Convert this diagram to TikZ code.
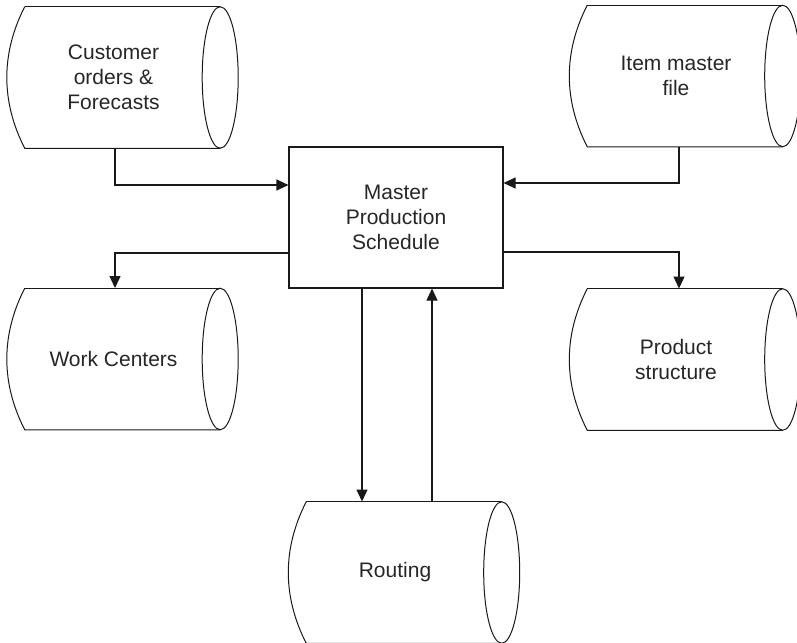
\documentclass[tikz,border=0pt]{standalone}
\usepackage{fontspec}
\setmainfont{Liberation Sans}
\usetikzlibrary{arrows.meta}

% Draws a horizontal storage drum around a named node: curved back on the left,
% full ellipse on the right (centred on the node's east anchor).
\newcommand{\drumoutline}[1]{%
  \draw[outline]
    ([xshift=18pt]#1.north west)
      .. controls ([xshift=-6pt,yshift=-47pt]#1.north west)
      and ([xshift=-6pt,yshift=47pt]#1.south west) ..
    ([xshift=18pt]#1.south west) -- (#1.south east);
  \draw[outline] ([xshift=18pt]#1.north west) -- (#1.north east);
  \draw[outline] (#1.east) ellipse [x radius=18pt, y radius=70.75pt];
}

\begin{document}
\begin{tikzpicture}[x=1pt, y=-1pt,
  outline/.style={line width=1pt, draw=black!90},
  drum/.style={minimum width=213pt, minimum height=141.5pt, inner sep=0pt,
    align=center, text=black!85,
    font=\fontsize{21}{25}\selectfont},
  procbox/.style={draw=black!90, line width=1.1pt, minimum width=214pt,
    minimum height=141pt, inner sep=0pt, align=center, text=black!85,
    font=\fontsize{21}{25}\selectfont},
  flow/.style={line width=1.1pt, draw=black!90,
    -{Triangle[length=12pt, width=11pt]}}]

\useasboundingbox (0,0) rectangle (797,642);

% stores
\node[drum] (cust) at (113.5,77.5)  {Customer\\orders \&\\Forecasts};
\node[drum] (item) at (676,76)      {Item master\\file};
\node[drum] (work) at (113.5,359)   {Work Centers};
\node[drum] (prod) at (676,359.5)   {Product\\structure};
\node[drum] (rout) at (395,572.5)   {Routing};

\drumoutline{cust}
\drumoutline{item}
\drumoutline{work}
\drumoutline{prod}
\drumoutline{rout}

% central process
\node[procbox] (mps) at (396,217.5) {Master\\Production\\Schedule};

% data flows
\draw[flow] ([xshift=1.5pt]cust.south) |- ([yshift=32.5pt]mps.west);
\draw[flow] ([xshift=3pt]item.south) |- ([yshift=34.5pt]mps.east);
\draw[flow] ([yshift=-35.5pt]mps.west) -| ([xshift=1.5pt]work.north);
\draw[flow] ([yshift=-34.5pt]mps.east) -| ([xshift=3pt]prod.north);
\draw[flow] ([xshift=-34pt]mps.south) -- ([xshift=-34pt]mps.south |- rout.north);
\draw[flow] ([xshift=36pt]mps.south |- rout.north) -- ([xshift=36pt]mps.south);

\end{tikzpicture}
\end{document}
